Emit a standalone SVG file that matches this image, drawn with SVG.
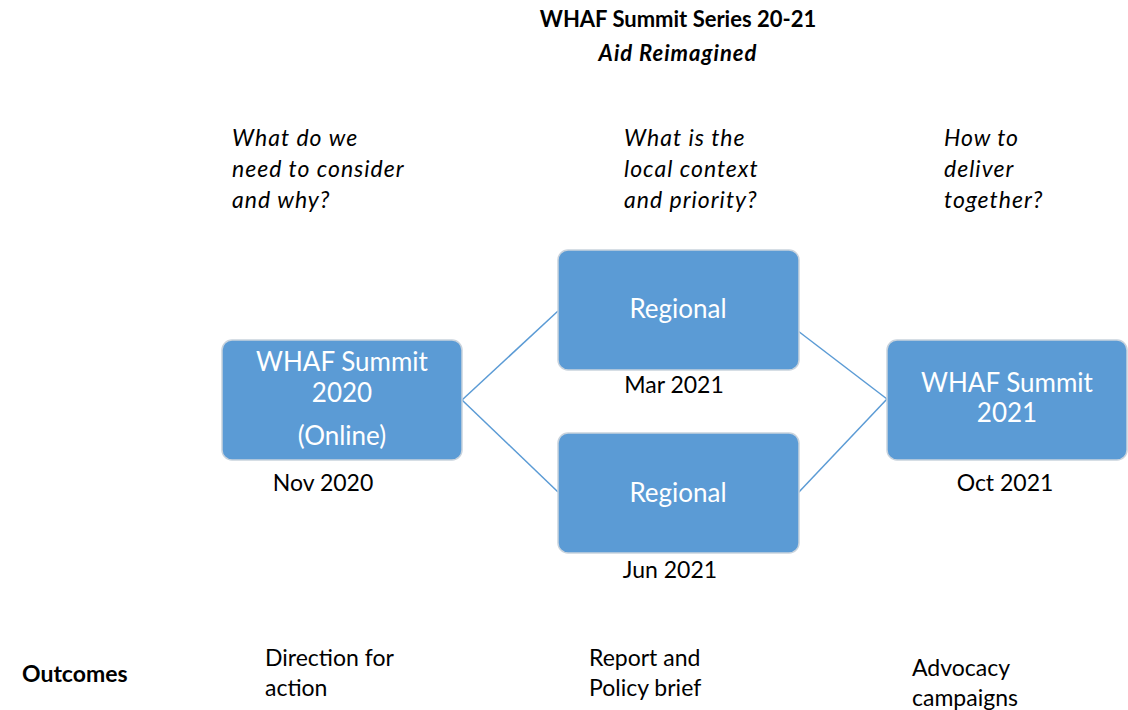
<svg xmlns="http://www.w3.org/2000/svg" width="1128" height="710" viewBox="0 0 1128 710">
<style>
.t{font-family:Lato,"Open Sans","Liberation Sans",sans-serif;fill:#000}
.q{font-style:italic;font-size:23px;letter-spacing:1px}
.d{font-size:23px}
.w{font-family:Lato,"Open Sans","Liberation Sans",sans-serif;fill:#fff;font-size:26px;text-anchor:middle}
.box{fill:#5B9BD5;stroke:#c9d3dd;stroke-width:1.5}
.c{stroke:#5B9BD5;stroke-width:1.5;fill:none}
</style>
<rect width="1128" height="710" fill="#fff"/>
<g id="title">
<text class="t" x="678" y="27" font-size="22" font-weight="bold" text-anchor="middle">WHAF Summit Series 20-21</text>
<text class="t" x="678" y="61" font-size="22" font-weight="bold" font-style="italic" letter-spacing="1" text-anchor="middle">Aid Reimagined</text>
</g>
<g id="questions">
<text class="t q" x="232" y="146">What do we</text>
<text class="t q" x="232" y="177">need to consider</text>
<text class="t q" x="232" y="208">and why?</text>
<text class="t q" x="624" y="146">What is the</text>
<text class="t q" x="624" y="177">local context</text>
<text class="t q" x="624" y="208">and priority?</text>
<text class="t q" x="944" y="146">How to</text>
<text class="t q" x="944" y="177">deliver</text>
<text class="t q" x="944" y="208">together?</text>
</g>
<g id="connectors">
<line class="c" x1="462" y1="400" x2="558" y2="311"/>
<line class="c" x1="462" y1="400" x2="558" y2="492"/>
<line class="c" x1="798" y1="331" x2="887" y2="399"/>
<line class="c" x1="798" y1="493" x2="887" y2="399"/>
</g>
<g id="summit2020">
<rect class="box" x="222" y="340" width="240" height="120" rx="10"/>
<text class="w" x="342" y="371">WHAF Summit</text>
<text class="w" x="342" y="402">2020</text>
<text class="w" x="342" y="445">(Online)</text>
<text class="t d" x="323" y="491" text-anchor="middle">Nov 2020</text>
</g>
<g id="regional1">
<rect class="box" x="558" y="250" width="241" height="120" rx="10"/>
<text class="w" x="678" y="318">Regional</text>
<text class="t d" x="674" y="393" text-anchor="middle">Mar 2021</text>
</g>
<g id="regional2">
<rect class="box" x="558" y="433" width="241" height="120" rx="10"/>
<text class="w" x="678" y="502">Regional</text>
<text class="t d" x="670" y="578" text-anchor="middle">Jun 2021</text>
</g>
<g id="summit2021">
<rect class="box" x="887" y="340" width="240" height="120" rx="10"/>
<text class="w" x="1007" y="392">WHAF Summit</text>
<text class="w" x="1007" y="422">2021</text>
<text class="t d" x="1005" y="491" text-anchor="middle">Oct 2021</text>
</g>
<g id="outcomes">
<text class="t" x="22" y="682" font-size="23" font-weight="bold">Outcomes</text>
<text class="t d" x="265" y="666">Direction for</text>
<text class="t d" x="265" y="696">action</text>
<text class="t d" x="589" y="666">Report and</text>
<text class="t d" x="589" y="696">Policy brief</text>
<text class="t d" x="912" y="676">Advocacy</text>
<text class="t d" x="912" y="706">campaigns</text>
</g>
</svg>
